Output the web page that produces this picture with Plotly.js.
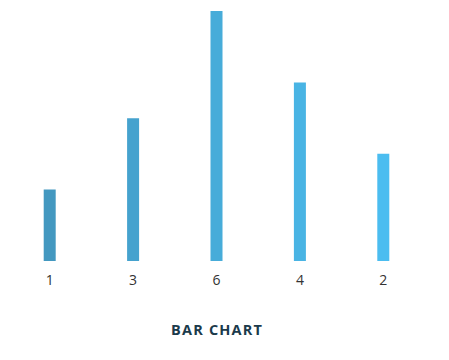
<!DOCTYPE html>
<html>
<head>
<meta charset="utf-8">
<script src="https://cdn.plot.ly/plotly-3.0.1.min.js"></script>
<style>
html,body{margin:0;padding:0;background:#fff;}
#chart{width:449px;height:360px;}
.annotation-text{letter-spacing:1.2px;}
</style>
</head>
<body>
<div id="chart"></div>
<script>
var categories = ["1", "3", "6", "4", "2"];
var values = [2, 4, 7, 5, 3];
var barColors = ["#4398c0", "#45a2ce", "#47acd9", "#49b4e4", "#4bbdf0"];

var trace = {
  type: "bar",
  x: categories,
  y: values,
  marker: {color: barColors, line: {width: 0}},
  hoverinfo: "none"
};

var layout = {
  width: 449,
  height: 360,
  margin: {l: 8, r: 24, t: 11, b: 99},
  paper_bgcolor: "#ffffff",
  plot_bgcolor: "#ffffff",
  bargap: 0.856,
  showlegend: false,
  font: {family: "Open Sans, sans-serif"},
  xaxis: {
    type: "category",
    showgrid: false,
    zeroline: false,
    showline: false,
    ticks: "",
    tickfont: {size: 14, color: "#333333", family: "Open Sans"},
    ticklabelstandoff: 9
  },
  yaxis: {
    range: [0, 7],
    visible: false,
    showgrid: false,
    zeroline: false
  },
  annotations: [{
    text: "<b>BAR CHART</b>",
    xref: "paper", yref: "paper",
    x: 0.5, y: -0.272,
    xanchor: "center", yanchor: "middle",
    showarrow: false,
    font: {size: 14.5, color: "#1b3a4b", family: "Open Sans"}
  }]
};

Plotly.newPlot("chart", [trace], layout, {displayModeBar: false, staticPlot: true});
</script>
</body>
</html>
